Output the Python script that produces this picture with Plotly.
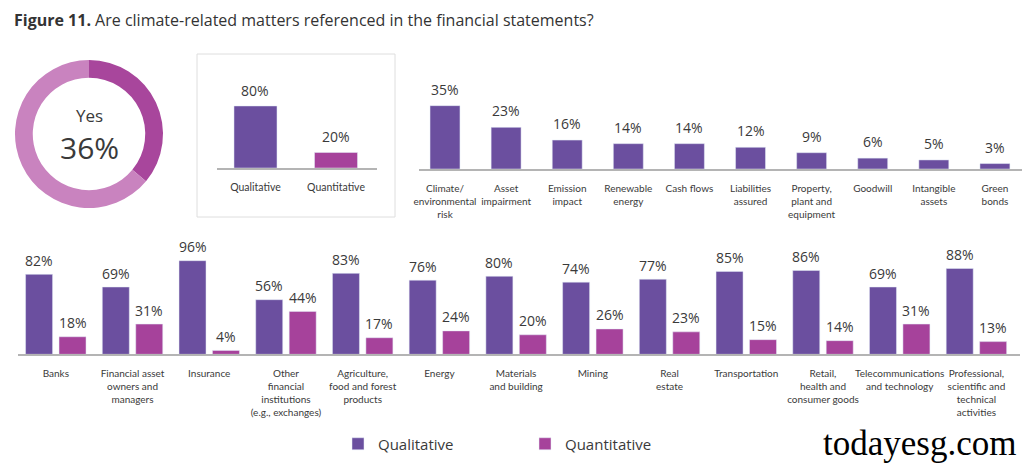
import plotly.graph_objects as go

# ---------------- data ----------------
donut_labels = ["Yes", "No"]
donut_values = [36, 64]

type_cats = ["Qualitative", "Quantitative"]
type_vals = [80, 20]

topic_cats = ["Climate/<br>environmental<br>risk", "Asset<br>impairment", "Emission<br>impact",
              "Renewable<br>energy", "Cash flows", "Liabilities<br>assured",
              "Property,<br>plant and<br>equipment", "Goodwill", "Intangible<br>assets", "Green<br>bonds"]
topic_vals = [35, 23, 16, 14, 14, 12, 9, 6, 5, 3]

sectors = ["Banks", "Financial asset<br>owners and<br>managers", "Insurance",
           "Other<br>financial<br>institutions<br>(e.g., exchanges)",
           "Agriculture,<br>food and forest<br>products", "Energy", "Materials<br>and building",
           "Mining", "Real<br>estate", "Transportation", "Retail,<br>health and<br>consumer goods",
           "Telecommunications<br>and technology",
           "Professional,<br>scientific and<br>technical<br>activities"]
qual_vals = [82, 69, 96, 56, 83, 76, 80, 74, 77, 85, 86, 69, 88]
quant_vals = [18, 31, 4, 44, 17, 24, 20, 26, 23, 15, 14, 31, 13]

# ---------------- style ----------------
W, H = 1024, 463
C_QUAL = "#6b4f9f"
C_QUANT = "#a6429b"
C_DONUT_DARK = "#a8469c"
C_DONUT_LIGHT = "#c983bf"
TXT = "#3a3a3a"
AXL = "#b4b4b4"
FONT = "Open Sans"
TICKFONT = "Lato"


def fx(p):
    return p / W


def fy(p):
    return 1 - p / H


fig = go.Figure()

# donut
fig.add_trace(go.Pie(labels=donut_labels, values=donut_values, hole=0.76, sort=False,
                     direction="clockwise", rotation=0,
                     marker=dict(colors=[C_DONUT_DARK, C_DONUT_LIGHT], line=dict(width=0)),
                     textinfo="none", hoverinfo="label+value", showlegend=False,
                     domain=dict(x=[fx(15), fx(163)], y=[fy(208), fy(60)])))

# small box: qualitative vs quantitative
fig.add_trace(go.Bar(x=type_cats, y=type_vals, width=0.534, marker_color=[C_QUAL, C_QUANT],
                     showlegend=False, xaxis="x", yaxis="y"))

# topics
fig.add_trace(go.Bar(x=topic_cats, y=topic_vals, width=0.49, marker_color=C_QUAL,
                     showlegend=False, xaxis="x2", yaxis="y2"))

# sectors
idx = list(range(len(sectors)))
fig.add_trace(go.Bar(x=sectors, y=qual_vals, width=0.352, offset=-0.394, marker_color=C_QUAL,
                     name="Qualitative", xaxis="x3", yaxis="y3"))
fig.add_trace(go.Bar(x=sectors, y=quant_vals, width=0.352, offset=0.042, marker_color=C_QUANT,
                     name="Quantitative", xaxis="x3", yaxis="y3"))

ann = []
# value labels
for c, v in zip(type_cats, type_vals):
    ann.append(dict(x=c, y=v, xref="x", yref="y", text=f"{v}%", showarrow=False,
                    xanchor="center", yanchor="middle", yshift=15.5, font=dict(size=14, color=TXT)))
for c, v in zip(topic_cats, topic_vals):
    ann.append(dict(x=c, y=v, xref="x2", yref="y2", text=f"{v}%", showarrow=False,
                    xanchor="center", yanchor="middle", yshift=16.5, font=dict(size=14, color=TXT)))
for i, v in zip(idx, qual_vals):
    ann.append(dict(x=i - 0.218, y=v, xref="x3", yref="y3", text=f"{v}%", showarrow=False,
                    xanchor="center", yanchor="middle", yshift=14, font=dict(size=14, color=TXT)))
for i, v in zip(idx, quant_vals):
    ann.append(dict(x=i + 0.218, y=v, xref="x3", yref="y3", text=f"{v}%", showarrow=False,
                    xanchor="center", yanchor="middle", yshift=14, font=dict(size=14, color=TXT)))

# donut centre text
ann.append(dict(x=fx(89), y=fy(116), xref="paper", yref="paper", text=donut_labels[0],
                xanchor="center", yanchor="middle", showarrow=False,
                font=dict(size=17, color=TXT)))
ann.append(dict(x=fx(89), y=fy(147), xref="paper", yref="paper", text=f"{donut_values[0]}%",
                xanchor="center", yanchor="middle", showarrow=False,
                font=dict(size=30, color=TXT)))

# watermark
ann.append(dict(x=fx(919), y=fy(443), xref="paper", yref="paper", text="todayesg.com",
                xanchor="center", yanchor="middle", showarrow=False,
                font=dict(size=35, color="#000000", family="Liberation Serif")))


def xax(domain, rng, size):
    return dict(domain=domain, range=rng, type="category", showline=True, linecolor=AXL,
                linewidth=1.5, showgrid=False, zeroline=False, ticks="outside", ticklen=9,
                tickangle=0, tickcolor="rgba(0,0,0,0)", automargin=False,
                tickfont=dict(size=size, color=TXT, family=TICKFONT), fixedrange=True)


def yax(domain, rng, anchor):
    return dict(domain=domain, range=rng, visible=False, showgrid=False, zeroline=False,
                anchor=anchor, fixedrange=True, automargin=False)


fig.update_layout(
    width=W, height=H, autosize=False,
    margin=dict(l=0, r=0, t=0, b=0, pad=0, autoexpand=False),
    paper_bgcolor="white", plot_bgcolor="white",
    font=dict(family=FONT, color=TXT),
    title=dict(text="<b>Figure 11.</b> Are climate-related matters referenced in the financial statements?",
               x=fx(14), xanchor="left", xref="paper", y=fy(20), yanchor="middle", yref="paper",
               font=dict(size=16, color="#333333", family=FONT)),
    xaxis=dict(**xax([fx(217), fx(377)], [-0.478, 1.509], 10.5), anchor="y"),
    yaxis=yax([fy(168), fy(80)], [0, 113.5], "x"),
    xaxis2=dict(**xax([fx(419), fx(1022)], [-0.4255, 9.443], 10), anchor="y2"),
    yaxis2=yax([fy(169), fy(70)], [0, 54.7], "x2"),
    xaxis3=dict(**xax([fx(18), fx(1020)], [-0.4927, 12.568], 10), anchor="y3"),
    yaxis3=yax([fy(354.3), fy(240)], [0, 117.2], "x3"),
    legend=dict(orientation="h", x=fx(338), xanchor="left", y=fy(444), yanchor="middle",
                font=dict(size=15, color=TXT), entrywidth=142, entrywidthmode="pixels",
                bgcolor="rgba(0,0,0,0)"),
    annotations=ann,
    shapes=[dict(type="rect", xref="paper", yref="paper", x0=fx(197), x1=fx(395),
                 y0=fy(217), y1=fy(54), line=dict(color="#dedede", width=1), layer="below")],
)

fig.write_html("out.html", config={"displayModeBar": False},
               post_script="document.body.style.margin='0';document.body.style.overflow='hidden';")
